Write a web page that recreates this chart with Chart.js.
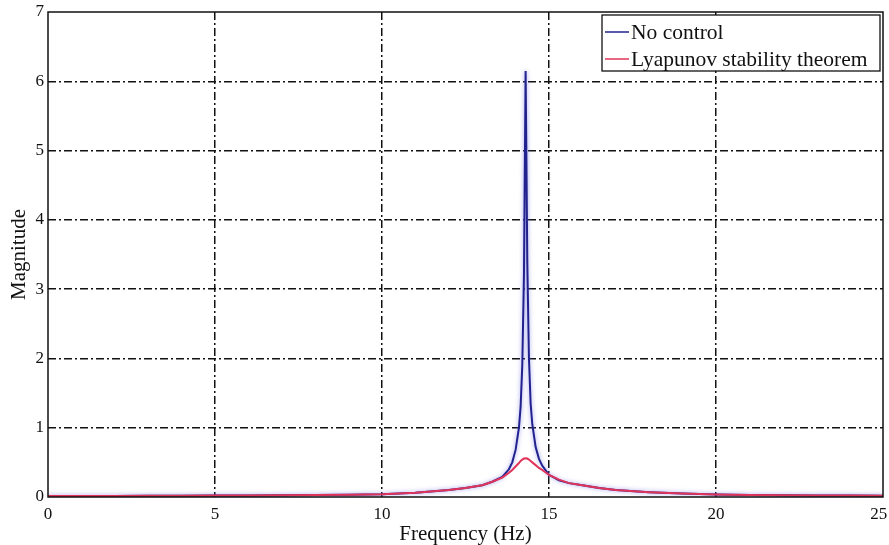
<!DOCTYPE html>
<html>
<head>
<meta charset="utf-8">
<script src="https://cdn.jsdelivr.net/npm/chart.js@4/dist/chart.umd.min.js"></script>
<style>
  html, body { margin: 0; padding: 0; background: #fff; }
  #wrap { width: 889px; height: 545px; }
</style>
</head>
<body>
<div id="wrap"><canvas id="bode"></canvas></div>
<script>
// frequency response, magnitude vs frequency (Hz)
var freqs = [0, 1, 2, 3, 4, 5, 6, 7, 8, 9, 10, 11, 12, 12.5, 13, 13.3, 13.6, 13.8, 13.9, 14.0, 14.1, 14.15, 14.2, 14.25, 14.3,
             14.35, 14.4, 14.45, 14.5, 14.6, 14.7, 14.8, 15.0, 15.3, 15.6, 16, 16.5, 17, 18, 19, 20, 21, 22, 23, 24, 25];
var noControl = [0.015, 0.015, 0.016, 0.017, 0.018, 0.02, 0.022, 0.025, 0.028, 0.032, 0.04, 0.06, 0.1, 0.13, 0.17, 0.22, 0.29, 0.4, 0.5, 0.68, 1.0, 1.3, 1.9, 3.2, 6.15,
                 3.4, 2.0, 1.35, 1.05, 0.72, 0.55, 0.45, 0.32, 0.24, 0.2, 0.17, 0.13, 0.1, 0.07, 0.05, 0.035, 0.03, 0.025, 0.022, 0.02, 0.018];
var lyapunov = [0.015, 0.015, 0.016, 0.017, 0.018, 0.02, 0.022, 0.025, 0.028, 0.032, 0.04, 0.06, 0.1, 0.13, 0.17, 0.22, 0.28, 0.35, 0.39, 0.44, 0.49, 0.52, 0.54, 0.555, 0.56,
                0.555, 0.54, 0.52, 0.5, 0.46, 0.42, 0.39, 0.32, 0.25, 0.2, 0.17, 0.13, 0.1, 0.07, 0.05, 0.035, 0.03, 0.025, 0.022, 0.02, 0.018];
var xTicks = [0, 5, 10, 15, 20, 25];
var yTicks = [0, 1, 2, 3, 4, 5, 6, 7];

var serif = '"Liberation Serif", "DejaVu Serif", serif';

var toPoints = function(ys)
{
	return freqs.map(function(f, i){ return { x: f, y: ys[i] }; });
}

// soft glow under the blue trace
var traceGlow = {
	id: 'traceGlow',
	beforeDatasetDraw: function(chart, args)
	{
		if (args.index !== 0) return;
		chart.ctx.save();
		chart.ctx.shadowColor = 'rgba(110,110,230,0.7)';
		chart.ctx.shadowBlur = 4;
	},
	afterDatasetDraw: function(chart, args)
	{
		if (args.index !== 0) return;
		chart.ctx.restore();
	}
}

// black box round the plot area
var frameBox = {
	id: 'frameBox',
	afterDatasetsDraw: function(chart)
	{
		var a = chart.chartArea, ctx = chart.ctx;
		ctx.save();
		ctx.strokeStyle = '#111';
		ctx.lineWidth = 1.5;
		ctx.strokeRect(a.left, a.top, a.right - a.left, a.bottom - a.top);
		ctx.restore();
	}
}

// boxed legend in the top right corner
var boxLegend = {
	id: 'boxLegend',
	afterDraw: function(chart)
	{
		var a = chart.chartArea, ctx = chart.ctx;
		var w = 278, h = 56;
		var x0 = a.right - 3 - w, y0 = a.top + 3;
		ctx.save();
		ctx.fillStyle = '#fff';
		ctx.fillRect(x0, y0, w, h);
		ctx.strokeStyle = '#111';
		ctx.lineWidth = 1.3;
		ctx.strokeRect(x0, y0, w, h);
		ctx.font = '21.5px ' + serif;
		ctx.textBaseline = 'middle';
		chart.data.datasets.forEach(function(ds, i){
			var cy = y0 + 17 + i * 27;
			ctx.strokeStyle = ds.borderColor;
			ctx.lineWidth = 1.5;
			ctx.beginPath();
			ctx.moveTo(x0 + 3, cy);
			ctx.lineTo(x0 + 27, cy);
			ctx.stroke();
			ctx.fillStyle = '#111';
			ctx.fillText(ds.label, x0 + 29, cy + 1);
		});
		ctx.restore();
	}
}

var dashDot = [8, 3, 2, 3];

new Chart(document.getElementById('bode'), {
	type: 'line',
	data: {
		datasets: [
			{
				label: 'No control',
				data: toPoints(noControl),
				borderColor: '#22228e',
				borderWidth: 2,
				pointRadius: 0,
				tension: 0,
				order: 2
			},
			{
				label: 'Lyapunov stability theorem',
				data: toPoints(lyapunov),
				borderColor: '#e0345a',
				borderWidth: 2,
				pointRadius: 0,
				tension: 0,
				order: 1
			}
		]
	},
	options: {
		responsive: true,
		maintainAspectRatio: false,
		animation: false,
		layout: { padding: { top: 12, right: 6, left: 0, bottom: 0 } },
		plugins: {
			legend: { display: false },
			tooltip: { enabled: false }
		},
		scales: {
			x: {
				type: 'linear',
				min: 0,
				max: 25,
				afterBuildTicks: function(scale){ scale.ticks = xTicks.map(function(v){ return { value: v }; }); },
				afterFit: function(scale){ scale.height = 48; scale.paddingLeft = 0; scale.paddingRight = 0; },
				ticks: {
					color: '#111', padding: 7, maxRotation: 0, font: { family: serif, size: 17 },
					// keep the last label inside the canvas
					callback: function(v){ return v === 25 ? v + '\u2002' : '' + v; }
				},
				grid: {
					drawTicks: false,
					color: function(ctx){ return (ctx.tick && (ctx.tick.value === 0 || ctx.tick.value === 25)) ? 'rgba(0,0,0,0)' : '#111'; },
					lineWidth: 1.5
				},
				border: { display: false, dash: dashDot },
				title: { display: true, text: 'Frequency (Hz)', color: '#111', padding: { top: 0, bottom: -2 }, font: { family: serif, size: 21 } }
			},
			y: {
				type: 'linear',
				min: 0,
				max: 7,
				afterBuildTicks: function(scale){ scale.ticks = yTicks.map(function(v){ return { value: v }; }); },
				afterFit: function(scale){ scale.width = 48; scale.paddingTop = 0; scale.paddingBottom = 0; },
				ticks: { color: '#111', padding: 4, font: { family: serif, size: 17 } },
				grid: {
					drawTicks: false,
					color: function(ctx){ return (ctx.tick && (ctx.tick.value === 0 || ctx.tick.value === 7)) ? 'rgba(0,0,0,0)' : '#111'; },
					lineWidth: 1.5
				},
				border: { display: false, dash: dashDot },
				title: { display: true, text: 'Magnitude', color: '#111', padding: { top: 7, bottom: 0 }, font: { family: serif, size: 21 } }
			}
		}
	},
	plugins: [traceGlow, frameBox, boxLegend]
});
</script>
</body>
</html>
